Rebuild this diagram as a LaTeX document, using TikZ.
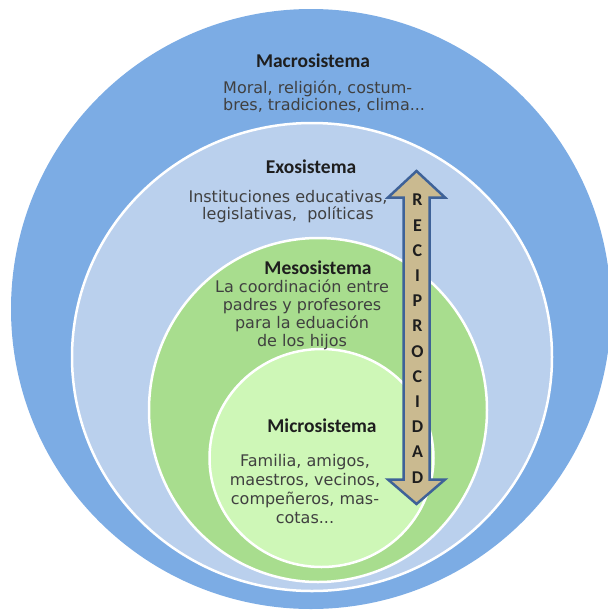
\documentclass[tikz,border=0pt]{standalone}
\usepackage{fontspec}
\setmainfont{DejaVu Sans}
\newfontfamily\titlefont{Carlito}

\definecolor{macroblue}{RGB}{124,172,228}
\definecolor{exoblue}{RGB}{186,208,237}
\definecolor{mesogreen}{RGB}{168,221,142}
\definecolor{microgreen}{RGB}{206,247,183}
\definecolor{arrowtan}{RGB}{202,186,144}
\definecolor{arrowblue}{RGB}{62,98,152}
\definecolor{titlegray}{RGB}{30,30,30}
\definecolor{descgray}{RGB}{64,64,64}

\tikzset{
	ring/.style={draw=white, line width=2.5pt},
	systitle/.style={font=\titlefont\bfseries\fontsize{19.5}{22}\selectfont, text=titlegray, inner sep=0pt},
	sysdesc/.style={font=\fontsize{16}{#1}\selectfont, text=descgray, align=center, inner sep=0pt},
	sysdesc/.default=17,
	letter/.style={font=\titlefont\bfseries\fontsize{18}{20}\selectfont, text=titlegray, inner sep=0pt}
}

\begin{document}
\begin{tikzpicture}[x=1pt, y=-1pt]
	\useasboundingbox (0,0) rectangle (608,611);
	\clip (0,0) rectangle (608,611);

	% the four systems, from outside in
	\fill [macroblue] (311,309) circle (300);
	\filldraw [ring, fill=exoblue] (312,357) ellipse (240 and 234);
	\filldraw [ring, fill=mesogreen] (318,410) ellipse (169 and 172);
	\filldraw [ring, fill=microgreen] (321.5,458) ellipse (112 and 109);

	\node [systitle] (macro) at (313,61) {Macrosistema};
	\node [sysdesc, align=left, anchor=west] (macrotext) at (223,96.5) {Moral, religión, costum-\\bres, tradiciones, clima...};

	\node [systitle] (exo) at (311,167) {Exosistema};
	\node [sysdesc] (exotext) at (288,206.5) {Instituciones educativas,\\legislativas,\ \ políticas};

	\node [systitle] (meso) at (318,267.5) {Mesosistema};
	\node [sysdesc=18] (mesotext) at (302,314.5) {La coordinación entre\\padres y profesores\\para la eduación\\de los hijos};

	\node [systitle] (micro) at (322,426) {Microsistema};
	\node [sysdesc=18.7] (microtext) at (305,489) {Familia, amigos,\\maestros, vecinos,\\compeñeros, mas-\\cotas...};

	% double arrow
	\filldraw [arrowblue, fill=arrowtan, line width=2.5pt, line join=miter]
		(416.5,171) -- (445,197.5) -- (429.5,197.5) -- (429.5,479.5) -- (445,479.5)
		-- (416.5,504) -- (388,479.5) -- (403.5,479.5) -- (403.5,197.5) -- (388,197.5) -- cycle;
	\foreach \l [count=\i from 0] in {R,E,C,I,P,R,O,C,I,D,A,D}
		\node [letter] (letter\i) at (417.5,{200+25.2*\i}) {\l};
\end{tikzpicture}
\end{document}
